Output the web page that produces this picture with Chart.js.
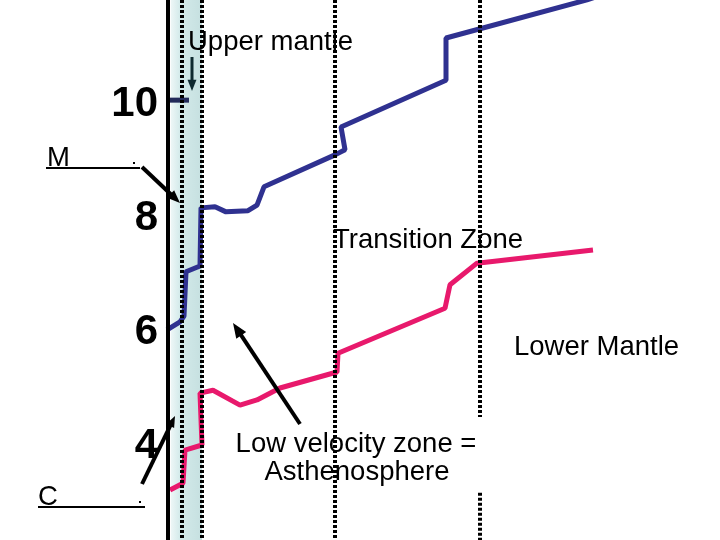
<!DOCTYPE html>
<html>
<head>
<meta charset="utf-8">
<title>Seismic velocity profile</title>
<script src="https://cdn.jsdelivr.net/npm/chart.js@4.4.1/dist/chart.umd.min.js"></script>
<style>
    html, body { margin: 0; padding: 0; background: #fff; }
    #velocityChart { display: block; }
</style>
</head>
<body>
<canvas id="velocityChart" width="720" height="540"></canvas>
<script>
// depth (arbitrary km-like units) and velocity (km/s)
const pDepth    = [-2.5, 30, 40, 45, 80, 82.5, 117.5, 145, 200, 222.5, 240, 417.5, 442.5, 432.5, 695, 695, 1047.5, 1130];
const pVelocity = [6.02, 6.16, 6.26, 7.04, 7.14, 8.16, 8.18, 8.09, 8.11, 8.21, 8.53, 9.09, 9.18, 9.58, 10.40, 11.14, 11.81, 12.0];

const sDepth    = [5, 37.5, 42.5, 85, 80, 112.5, 180, 222.5, 280, 422.5, 425, 692.5, 705, 772.5, 1062.5];
const sVelocity = [3.21, 3.33, 3.91, 4.0, 4.91, 4.96, 4.70, 4.79, 5.00, 5.28, 5.61, 6.40, 6.81, 7.19, 7.42];

const markDepth    = [-5, 52.5];
const markVelocity = [10.05, 10.05];

const boundaryDepths = [35, 85, 417.5, 780];
const boundaryGap = [4.49, 3.16];   // the last boundary is broken here
const bandRange = [7, 85];

const tickValues = [4, 6, 8, 10];
const depthRange = [-420, 1380];
const velocityRange = [2.333, 11.807];

document.addEventListener('DOMContentLoaded', function() {
    const pairs = (xs, ys) => xs.map((x, i) => ({ x: x, y: ys[i] }));

    const boundarySets = boundaryDepths.map((d, i) => {
        let pts = [{ x: d, y: velocityRange[1] }, { x: d, y: velocityRange[0] }];
        if (i === boundaryDepths.length - 1) {
            pts = [
                { x: d, y: velocityRange[1] }, { x: d, y: boundaryGap[0] },
                { x: d, y: null },
                { x: d, y: boundaryGap[1] }, { x: d, y: velocityRange[0] }
            ];
        }
        return {
            data: pts,
            borderColor: '#000',
            borderWidth: 4,
            borderDash: [3, 2],
            pointRadius: 0,
            spanGaps: false
        };
    });

    const font = '"Liberation Sans", Arial, sans-serif';

    function arrow(ctx, x1, y1, x2, y2, color, width, head) {
        const a = Math.atan2(y2 - y1, x2 - x1);
        ctx.save();
        ctx.strokeStyle = color;
        ctx.fillStyle = color;
        ctx.lineWidth = width;
        ctx.beginPath();
        ctx.moveTo(x1, y1);
        ctx.lineTo(x2 - Math.cos(a) * head * 0.8, y2 - Math.sin(a) * head * 0.8);
        ctx.stroke();
        ctx.beginPath();
        ctx.moveTo(x2, y2);
        ctx.lineTo(x2 - head * Math.cos(a - 0.38), y2 - head * Math.sin(a - 0.38));
        ctx.lineTo(x2 - head * Math.cos(a + 0.38), y2 - head * Math.sin(a + 0.38));
        ctx.closePath();
        ctx.fill();
        ctx.restore();
    }

    const decor = {
        id: 'decor',
        beforeDatasetsDraw(chart) {
            const ctx = chart.ctx;
            const x = chart.scales.x;
            const area = chart.chartArea;
            const left = x.getPixelForValue(bandRange[0]);
            const right = x.getPixelForValue(bandRange[1]);
            const grad = ctx.createLinearGradient(left, 0, right, 0);
            grad.addColorStop(0, '#eef7f7');
            grad.addColorStop(0.3, '#d3eaea');
            grad.addColorStop(1, '#c6e0e0');
            ctx.save();
            ctx.fillStyle = grad;
            ctx.fillRect(left, area.top, right - left, area.bottom - area.top);
            ctx.restore();
        },
        afterDraw(chart) {
            const ctx = chart.ctx;
            const x = chart.scales.x;
            const y = chart.scales.y;
            const axisX = x.getPixelForValue(0);

            ctx.save();
            // velocity axis
            ctx.strokeStyle = '#000';
            ctx.lineWidth = 4;
            ctx.beginPath();
            ctx.moveTo(axisX, chart.chartArea.top);
            ctx.lineTo(axisX, chart.chartArea.bottom);
            ctx.stroke();

            ctx.fillStyle = '#000';
            ctx.font = 'bold 42px ' + font;
            ctx.textAlign = 'right';
            ctx.textBaseline = 'middle';
            tickValues.forEach(v => {
                ctx.fillText(String(v), axisX - 10, y.getPixelForValue(v) + 1);
            });

            // labels
            ctx.font = '27.5px ' + font;
            ctx.textBaseline = 'alphabetic';
            ctx.textAlign = 'left';
            ctx.fillText('Upper mantle', 188, 50);
            ctx.fillText('Transition Zone', 333, 248);
            ctx.fillText('Lower Mantle', 514, 355);
            ctx.fillText('M', 47, 166);
            ctx.fillText('C', 38, 505);
            ctx.textAlign = 'center';
            ctx.fillText('Low velocity zone =', 356, 452);
            ctx.fillText('Asthenosphere', 357, 480);

            // underlines
            ctx.lineWidth = 2;
            ctx.beginPath();
            ctx.moveTo(46, 168); ctx.lineTo(140, 168);
            ctx.moveTo(38, 507); ctx.lineTo(145, 507);
            ctx.stroke();
            ctx.fillRect(133, 162, 2, 2);
            ctx.fillRect(139, 501, 2, 2);
            ctx.restore();

            arrow(ctx, 142, 167, 180, 203, '#000', 4, 14);
            arrow(ctx, 142, 484, 175, 416, '#000', 4, 12);
            arrow(ctx, 192, 57, 192, 91, '#0f2a30', 3, 12);
            arrow(ctx, 300, 424, 233, 323, '#000', 4, 16);
        }
    };

    const ctx = document.getElementById('velocityChart').getContext('2d');
    new Chart(ctx, {
        type: 'line',
        data: {
            datasets: boundarySets.concat([
                {
                    label: 'P waves',
                    data: pairs(pDepth, pVelocity),
                    borderColor: '#2f3190',
                    borderWidth: 5,
                    pointRadius: 0,
                    tension: 0,
                    borderJoinStyle: 'bevel'
                },
                {
                    label: 'S waves',
                    data: pairs(sDepth, sVelocity),
                    borderColor: '#e8196c',
                    borderWidth: 5,
                    pointRadius: 0,
                    tension: 0,
                    borderJoinStyle: 'bevel'
                },
                {
                    data: pairs(markDepth, markVelocity),
                    borderColor: '#222a5a',
                    borderWidth: 5,
                    pointRadius: 0
                }
            ])
        },
        options: {
            responsive: false,
            animation: false,
            layout: { padding: 0 },
            scales: {
                x: { type: 'linear', min: depthRange[0], max: depthRange[1], display: false },
                y: { type: 'linear', min: velocityRange[0], max: velocityRange[1], display: false }
            },
            plugins: {
                legend: { display: false },
                tooltip: { enabled: false }
            }
        },
        plugins: [decor]
    });
});
</script>
</body>
</html>
